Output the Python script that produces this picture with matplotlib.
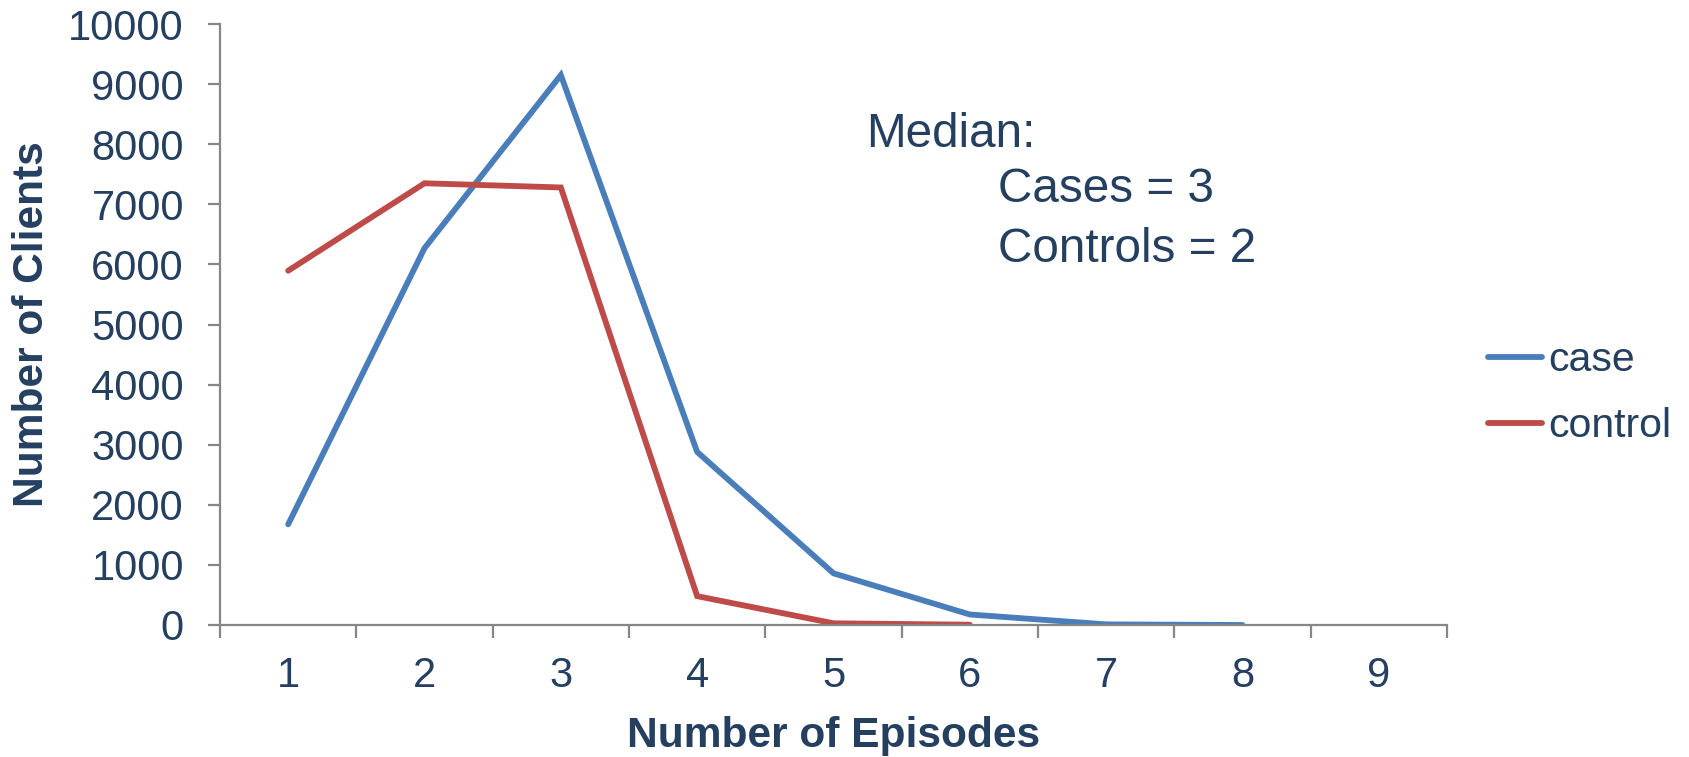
import matplotlib
matplotlib.use("Agg")
import matplotlib.pyplot as plt
import numpy as np

plt.rcParams['font.family'] = ['Liberation Sans', 'DejaVu Sans']

episodes = [1, 2, 3, 4, 5, 6, 7, 8, 9]
case_episodes = [1, 2, 3, 4, 5, 6, 7, 8]
case_values = [1675, 6270, 9150, 2880, 860, 175, 10, 0]
control_episodes = [1, 2, 3, 4, 5, 6]
control_values = [5895, 7350, 7280, 480, 28, 5]
yticks = list(range(0, 10001, 1000))

TEXT = '#243F60'
AXC = '#868686'
BLUE = '#4A7EBB'
RED = '#BE4B48'

W, H = 1690, 757
fig = plt.figure(figsize=(W / 100, H / 100), dpi=100)
ax = fig.add_axes([220 / W, 1 - 625 / H, (1447 - 220) / W, (625 - 24) / H])

ax.plot(case_episodes, case_values, color=BLUE, lw=4.2, solid_capstyle='round',
        solid_joinstyle='miter', label='case')
ax.plot(control_episodes, control_values, color=RED, lw=4.2, solid_capstyle='round',
        solid_joinstyle='miter', label='control')

ax.set_xlim(0.5, len(episodes) + 0.5)
ax.set_ylim(0, 10000)
ax.set_yticks(yticks)
ax.set_yticklabels([str(v) for v in yticks])
ax.set_xticks(episodes)
ax.set_xticklabels([str(e) for e in episodes])
ax.set_xticks([e - 0.5 for e in episodes] + [episodes[-1] + 0.5], minor=True)

for s in ['top', 'right']:
    ax.spines[s].set_visible(False)
for s in ['left', 'bottom']:
    ax.spines[s].set_color(AXC)
    ax.spines[s].set_linewidth(1.6)

ax.tick_params(axis='y', which='major', direction='out', length=9, width=1.6,
               color=AXC, labelsize=30, labelcolor=TEXT, pad=17)
ax.tick_params(axis='x', which='major', length=0, labelsize=30, labelcolor=TEXT, pad=22)
ax.tick_params(axis='x', which='minor', direction='out', length=9, width=1.6, color=AXC)

fig.text(834 / W, 1 - 747 / H, 'Number of Episodes', ha='center', va='baseline',
         fontsize=30.6, fontweight='bold', color=TEXT)
fig.text(32 / W, 1 - 324 / H, 'Number of Clients', ha='center', va='center',
         rotation=90, fontsize=30.6, fontweight='bold', color=TEXT)

fig.text(866 / W, 1 - 147 / H, 'Median:', ha='left', va='baseline', fontsize=34.3, color=TEXT)
fig.text(998 / W, 1 - 202 / H, 'Cases = 3', ha='left', va='baseline', fontsize=34.3, color=TEXT)
fig.text(998 / W, 1 - 262 / H, 'Controls = 2', ha='left', va='baseline', fontsize=34.3, color=TEXT)

leg = ax.legend(loc='center left', bbox_to_anchor=(1488 / W, 1 - 393 / H),
                bbox_transform=fig.transFigure, frameon=False, fontsize=29.5,
                handlelength=1.33, handletextpad=0.15, borderpad=0, borderaxespad=0,
                labelspacing=0.68)
for t in leg.get_texts():
    t.set_color(TEXT)

fig.savefig('out.png', dpi=100)
